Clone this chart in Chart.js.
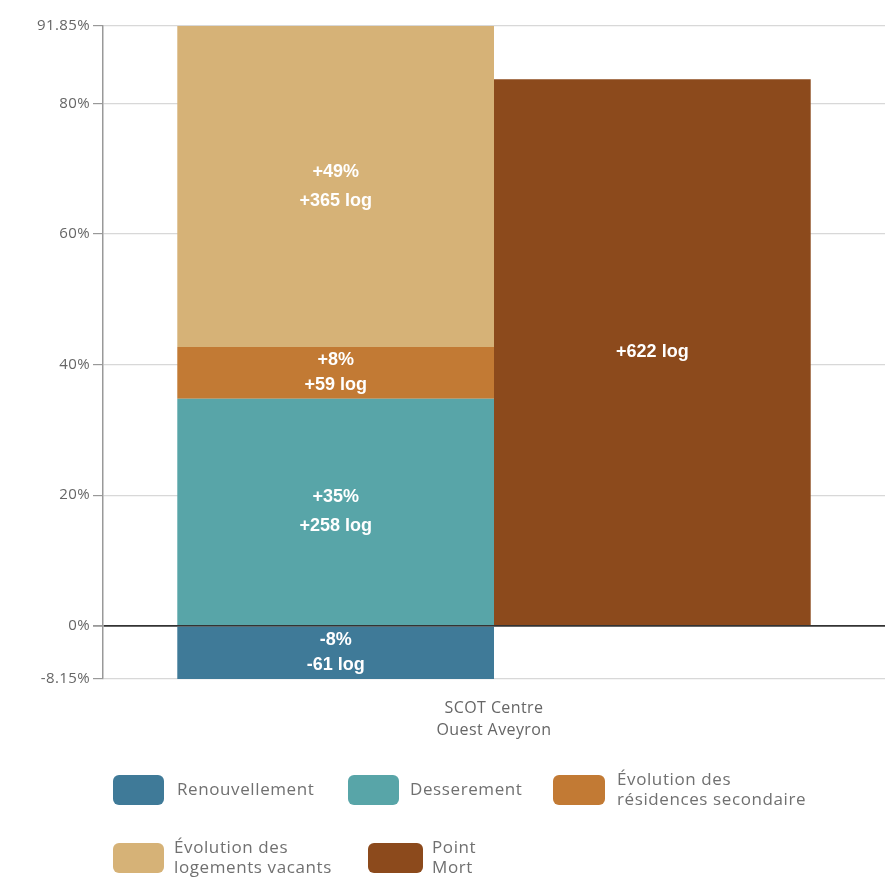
<!DOCTYPE html>
<html>
<head>
<meta charset="utf-8">
<script src="https://cdn.jsdelivr.net/npm/chart.js@4/dist/chart.umd.min.js"></script>
<style>
html,body{margin:0;padding:0;background:#fff;}
#wrap{width:885px;height:880px;position:relative;}
</style>
</head>
<body>
<div id="wrap"><canvas id="c" width="885" height="880"></canvas></div>
<script>
// ---- Data ----
const categories = [['SCOT Centre', 'Ouest Aveyron']];
const seriesNames = ['Renouvellement', 'Desserement', 'Évolution des résidences secondaire', 'Évolution des logements vacants', 'Point Mort'];
const legendLines = [['Renouvellement'], ['Desserement'], ['Évolution des', 'résidences secondaire'], ['Évolution des', 'logements vacants'], ['Point', 'Mort']];
const renouvellement = [-8.15];
const desserement = [34.75];
const residencesSecondaires = [7.95];
const logementsVacants = [49.15];
const pointMort = [83.7];
const pctLabels = ['-8%', '+35%', '+8%', '+49%', null];
const logLabels = ['-61 log', '+258 log', '+59 log', '+365 log', '+622 log'];
const yTicks = [-8.15, 0, 20, 40, 60, 80, 91.85];
const yMin = -8.15, yMax = 91.85;

const colors = ['#3f7a98', '#58a5a8', '#c27a34', '#d6b277', '#8c4a1c'];

const spacing = {
  id: 'spacing',
  beforeDraw(chart) { chart.ctx.letterSpacing = '0.4px'; }
};

const barLabels = {
  id: 'barLabels',
  afterDatasetsDraw(chart) {
    const ctx = chart.ctx;
    ctx.save();
    ctx.letterSpacing = '0px';
    ctx.fillStyle = '#ffffff';
    ctx.font = 'bold 18px "Liberation Sans", Arial, sans-serif';
    ctx.textAlign = 'center';
    ctx.textBaseline = 'middle';
    chart.data.datasets.forEach((ds, i) => {
      const meta = chart.getDatasetMeta(i);
      meta.data.forEach((bar) => {
        const cx = bar.x;
        const cy = (bar.y + bar.base) / 2;
        const lines = [];
        if (pctLabels[i]) lines.push(pctLabels[i]);
        if (logLabels[i]) lines.push(logLabels[i]);
        const lh = Math.abs(bar.base - bar.y) < 70 ? 25 : 29;
        lines.forEach((t, k) => {
          ctx.fillText(t, cx, cy + (k - (lines.length - 1) / 2) * lh);
        });
      });
    });
    ctx.restore();
  }
};

const customLegend = {
  id: 'customLegend',
  afterDraw(chart) {
    const ctx = chart.ctx;
    const items = [
      {x: 113, y: 775, w: 51, tx: 177},
      {x: 348, y: 775, w: 51, tx: 410},
      {x: 553, y: 775, w: 52, tx: 617},
      {x: 113, y: 843, w: 51, tx: 174},
      {x: 368, y: 843, w: 55, tx: 432}
    ];
    ctx.save();
    ctx.letterSpacing = '0.6px';
    items.forEach((it, i) => {
      ctx.fillStyle = colors[i];
      ctx.beginPath();
      ctx.roundRect(it.x, it.y, it.w, 30, 6);
      ctx.fill();
      ctx.fillStyle = '#707070';
      ctx.font = '17px "Open Sans", sans-serif';
      ctx.textAlign = 'left';
      ctx.textBaseline = 'middle';
      const lines = legendLines[i];
      const lh = 20;
      lines.forEach((t, k) => {
        ctx.fillText(t, it.tx, it.y + 15 + (k - (lines.length - 1) / 2) * lh);
      });
    });
    ctx.restore();
  }
};

const datasets = [
  {label: seriesNames[0], data: renouvellement, stack: 'a'},
  {label: seriesNames[1], data: desserement, stack: 'a'},
  {label: seriesNames[2], data: residencesSecondaires, stack: 'a'},
  {label: seriesNames[3], data: logementsVacants, stack: 'a'},
  {label: seriesNames[4], data: pointMort, stack: 'b'}
].map((d, i) => Object.assign(d, {
  backgroundColor: colors[i],
  borderWidth: 0,
  barPercentage: 1,
  categoryPercentage: 0.81
}));

new Chart(document.getElementById('c'), {
  type: 'bar',
  data: {labels: categories, datasets},
  options: {
    responsive: false,
    animation: false,
    layout: {padding: {top: 26, right: 0, left: 3, bottom: 140}},
    plugins: {legend: {display: false}, tooltip: {enabled: false}},
    scales: {
      x: {
        stacked: true,
        grid: {display: false},
        border: {display: false},
        ticks: {color: '#666', font: {family: '"Open Sans", sans-serif', size: 16, lineHeight: 1.4}, padding: 10},
        afterFit(s) { s.height = 61; }
      },
      y: {
        stacked: true,
        min: yMin, max: yMax,
        afterBuildTicks(s) { s.ticks = yTicks.map(v => ({value: v})); },
        afterFit(s) { s.width = 100; },
        ticks: {
          color: '#666',
          font: {family: '"Open Sans", sans-serif', size: 15},
          padding: 3,
          callback: (v) => v + '%'
        },
        border: {color: '#999', width: 1.5},
        grid: {
          color: (c) => c.tick && c.tick.value === 0 ? '#333' : '#d8d8d8',
          lineWidth: (c) => c.tick && c.tick.value === 0 ? 1.8 : 1.2,
          tickColor: '#999',
          tickLength: 10
        }
      }
    }
  },
  plugins: [spacing, barLabels, customLegend]
});
</script>
</body>
</html>
